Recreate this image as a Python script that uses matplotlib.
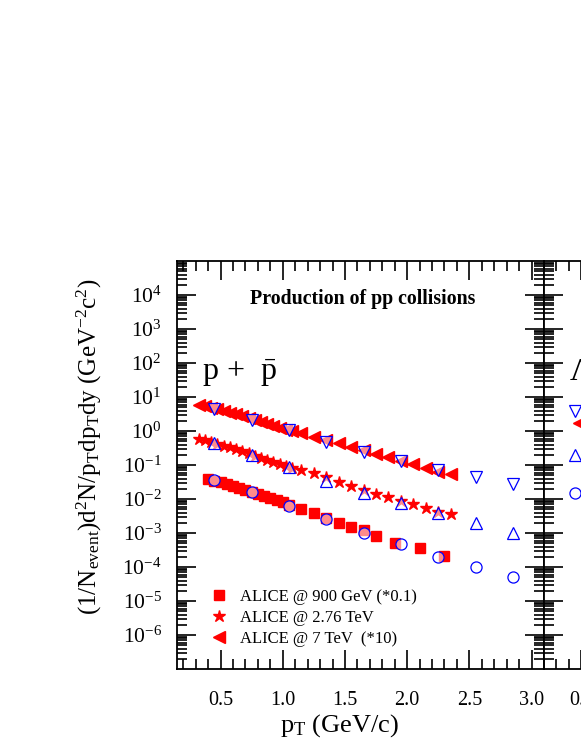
import numpy as np
import matplotlib
matplotlib.use("Agg")
import matplotlib.pyplot as plt
from matplotlib.ticker import FixedLocator, MultipleLocator, LogLocator, NullFormatter, FormatStrFormatter

# ALICE antiproton spectra
pt_900 = [0.40, 0.45, 0.50, 0.55, 0.60, 0.65, 0.70, 0.75, 0.80, 0.85, 0.90, 0.95, 1.00, 1.05,
          1.15, 1.25, 1.35, 1.45, 1.55, 1.65, 1.75, 1.90, 2.10, 2.30]
y_900 = [0.040, 0.035, 0.031, 0.027, 0.024, 0.021, 0.018, 0.016, 0.014, 0.012, 0.0105, 0.0092,
         0.0080, 0.0068, 0.0051, 0.0039, 0.0028, 0.0020, 0.0015, 0.0012, 0.00081, 0.00051,
         0.00036, 0.00021]

pt_276 = [0.325, 0.375, 0.425, 0.475, 0.525, 0.575, 0.625, 0.675, 0.725, 0.775, 0.825, 0.875,
          0.925, 0.975, 1.025, 1.075, 1.15, 1.25, 1.35, 1.45, 1.55, 1.65, 1.75, 1.85, 1.95,
          2.05, 2.15, 2.25, 2.35]
y_276 = [0.60, 0.54, 0.48, 0.42, 0.37, 0.33, 0.29, 0.255, 0.22, 0.19, 0.165, 0.145, 0.125,
         0.108, 0.094, 0.082, 0.071, 0.058, 0.045, 0.032, 0.024, 0.018, 0.014, 0.0115, 0.0087,
         0.0071, 0.0055, 0.0042, 0.0036]

pt_7 = pt_276
y_7 = [5.8, 5.3, 4.8, 4.3, 3.9, 3.5, 3.1, 2.7, 2.35, 2.05, 1.8, 1.6, 1.4, 1.25, 1.1, 0.97,
       0.85, 0.66, 0.55, 0.45, 0.35, 0.28, 0.21, 0.17, 0.13, 0.11, 0.082, 0.064, 0.053]

# model values (open blue symbols)
pt_model = [0.45, 0.75, 1.05, 1.35, 1.65, 1.95, 2.25, 2.55, 2.85]
model_900 = [0.036, 0.016, 0.0063, 0.0026, 0.0010, 0.00048, 0.000195, 0.00010, 0.000051]
model_276 = [0.44, 0.197, 0.087, 0.034, 0.015, 0.0076, 0.0039, 0.0020, 0.0010]
model_7 = [4.4, 2.1, 1.07, 0.48, 0.24, 0.13, 0.071, 0.045, 0.028]

# second panel (Lambda), only the first points are inside the picture
pt_lam_model = [0.45]
lam_model_900 = [0.015]
lam_model_276 = [0.20]
lam_model_7 = [3.9]
pt_lam_7 = [0.48]
lam_7 = [1.7]

plt.rcParams.update({
    "font.family": ["Liberation Serif", "DejaVu Serif"],
    "mathtext.fontset": "custom",
    "mathtext.rm": "Liberation Serif",
    "mathtext.it": "Liberation Serif:italic",
    "mathtext.bf": "Liberation Serif:bold",
    "axes.unicode_minus": False,
    "axes.linewidth": 1.3,
})

fig = plt.figure(figsize=(5.81, 7.52), dpi=100)
W, H = 581.0, 752.0
ax = fig.add_axes([177 / W, 1 - 669 / H, 367 / W, 408 / H])
ax2 = fig.add_axes([544 / W, 1 - 669 / H, 367 / W, 408 / H])

red = "#ff0000"
blue = "#0000ff"
open_kw = dict(ls="none", mfc=(1, 1, 1, 0.55), mec=blue, mew=0.9, ms=8, zorder=4)

ax.plot(pt_900, y_900, ls="none", marker="s", ms=6.5, color=red, label="ALICE @ 900 GeV (*0.1)", zorder=3)
ax.plot(pt_276, y_276, ls="none", marker="*", ms=9, color=red, label="ALICE @ 2.76 TeV", zorder=3)
ax.plot(pt_7, y_7, ls="none", marker="<", ms=8, color=red, label="ALICE @ 7 TeV  (*10)", zorder=3)
ax.plot(pt_model, model_900, marker="o", **open_kw)
ax.plot(pt_model, model_276, marker="^", **open_kw)
ax.plot(pt_model, model_7, marker="v", **open_kw)

ax2.plot(pt_lam_7, lam_7, ls="none", marker="<", ms=8, color=red, zorder=3)
ax2.plot(pt_lam_model, lam_model_900, marker="o", **open_kw)
ax2.plot(pt_lam_model, lam_model_276, marker="^", **open_kw)
ax2.plot(pt_lam_model, lam_model_7, marker="v", **open_kw)

for a in (ax, ax2):
    a.set_yscale("log")
    a.set_ylim(1e-7, 1e5)
    a.yaxis.set_major_locator(FixedLocator(10.0 ** np.arange(-6, 5)))
    a.yaxis.set_minor_locator(LogLocator(base=10, subs=np.arange(2, 10), numticks=30))
    a.yaxis.set_minor_formatter(NullFormatter())
    a.xaxis.set_major_locator(MultipleLocator(0.5))
    a.xaxis.set_minor_locator(MultipleLocator(0.1))
    a.xaxis.set_major_formatter(FormatStrFormatter("%.1f"))
    a.tick_params(which="both", direction="in", top=True, right=True, width=1.2)
    a.tick_params(which="major", length=14)
    a.tick_params(which="minor", length=7)
    a.tick_params(axis="x", which="major", pad=16, labelsize=14.5)
    a.tick_params(axis="y", which="major", pad=11, labelsize=15.5)

ax.set_xlim(0.15, 3.1)
ax2.set_xlim(0.2, 3.15)
ax2.tick_params(labelleft=False)

ax.set_xlabel(r"p$_{\rm T}$ (GeV/c)", fontsize=19)
ax.xaxis.set_label_coords(0.444, -0.105)
ax.set_ylabel(r"(1/N$_{\rm event}$)d$^{2}$N/p$_{\rm T}$dp$_{\rm T}$dy (GeV$^{-2}$c$^{2}$)", fontsize=18)
ax.yaxis.set_label_coords(-0.20, 0.544)

ax.text(0.507, 0.907, "Production of pp collisions", transform=ax.transAxes,
        ha="center", va="center", fontsize=14.3, fontweight="bold")
ax.text(0.068, 0.725, r"p +  $\bar{\rm p}$", transform=ax.transAxes,
        ha="left", va="center", fontsize=23)
ax2.text(0.068, 0.725, r"$\Lambda$ +  $\bar{\Lambda}$", transform=ax2.transAxes,
         ha="left", va="center", fontsize=23)

leg = ax.legend(loc="lower left", bbox_to_anchor=(0.073, 0.038), frameon=False, fontsize=12,
                handlelength=1.0, handletextpad=0.75, labelspacing=0.3, borderaxespad=0)

plt.savefig("out.png", dpi=100)
